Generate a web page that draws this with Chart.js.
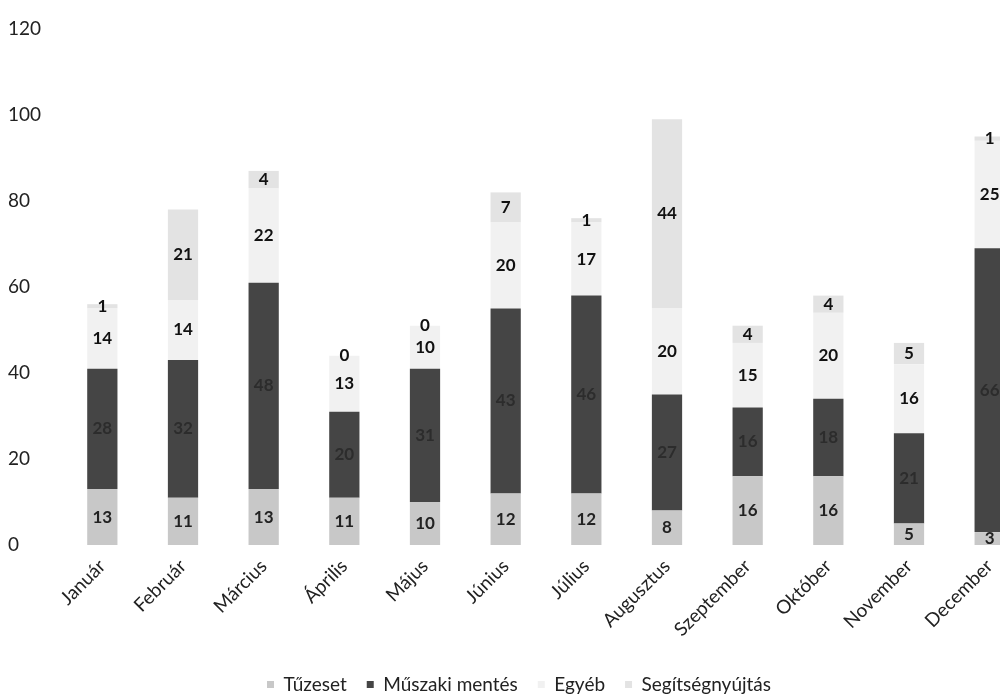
<!DOCTYPE html>
<html>
<head>
<meta charset="utf-8">
<script src="https://cdn.jsdelivr.net/npm/chart.js@4"></script>
<style>
  html, body { margin: 0; padding: 0; background: #fff; overflow: hidden; }
  #wrap { width: 1030px; height: 697px; }
</style>
</head>
<body>
<div id="wrap"><canvas id="chart" width="1030" height="697"></canvas></div>
<script>
const honapok = ['Január', 'Február', 'Március', 'Április', 'Május', 'Június',
  'Július', 'Augusztus', 'Szeptember', 'Október', 'November', 'December'];

const tuzeset = [13, 11, 13, 11, 10, 12, 12, 8, 16, 16, 5, 3];
const muszakiMentes = [28, 32, 48, 20, 31, 43, 46, 27, 16, 18, 21, 66];
const egyeb = [14, 14, 22, 13, 10, 20, 17, 20, 15, 20, 16, 25];
const segitsegnyujtas = [1, 21, 4, 0, 0, 7, 1, 44, 4, 4, 5, 1];

const yTicks = [0, 20, 40, 60, 80, 100, 120];

const betu = 'Lato, "Open Sans", sans-serif';

// ertekek kiirasa a szegmensek kozepere
const ertekCimkek = {
  id: 'ertekCimkek',
  afterDatasetsDraw(chart) {
    const ctx = chart.ctx;
    ctx.save();
    ctx.textAlign = 'center';
    ctx.textBaseline = 'middle';
    chart.data.datasets.forEach((ds, i) => {
      const meta = chart.getDatasetMeta(i);
      meta.data.forEach((bar, j) => {
        const v = ds.data[j];
        const y = (bar.y + bar.base) / 2;
        ctx.font = 'bold 17px ' + betu;
        ctx.fillStyle = ds.cimkeSzin;
        ctx.fillText(v, bar.x, y);
      });
    });
    ctx.restore();
  }
};

new Chart(document.getElementById('chart'), {
  type: 'bar',
  data: {
    labels: honapok,
    datasets: [
      { label: 'Tűzeset', data: tuzeset, backgroundColor: '#c8c8c8', cimkeSzin: '#222' },
      { label: 'Műszaki mentés', data: muszakiMentes, backgroundColor: '#454545', cimkeSzin: '#2c2c2c' },
      { label: 'Egyéb', data: egyeb, backgroundColor: '#f1f1f1', cimkeSzin: '#111' },
      { label: 'Segítségnyújtás', data: segitsegnyujtas, backgroundColor: '#e3e3e3', cimkeSzin: '#111' }
    ]
  },
  options: {
    responsive: false,
    animation: false,
    layout: { padding: { top: 29, left: 8, right: 0, bottom: -7 } },
    datasets: {
      bar: { categoryPercentage: 1, barPercentage: 0.375 }
    },
    plugins: {
      legend: {
        position: 'bottom',
        labels: {
          boxWidth: 7,
          boxHeight: 7,
          padding: 20,
          color: '#222',
          font: { family: betu, size: 19 }
        }
      },
      tooltip: { enabled: false }
    },
    scales: {
      x: {
        stacked: true,
        grid: { display: false, drawTicks: false },
        border: { display: false },
        ticks: {
          color: '#222',
          font: { family: betu, size: 19 },
          maxRotation: 45,
          minRotation: 45,
          padding: 10
        },
        afterFit(scale) { scale.height = 110; }
      },
      y: {
        stacked: true,
        min: 0,
        max: 120,
        grid: { display: false, drawTicks: false },
        border: { display: false },
        afterBuildTicks(scale) { scale.ticks = yTicks.map(v => ({ value: v })); },
        ticks: {
          color: '#222',
          font: { family: betu, size: 19 },
          crossAlign: 'far',
          padding: 4
        },
        afterFit(scale) { scale.width = 54; }
      }
    }
  },
  plugins: [ertekCimkek]
});
</script>
</body>
</html>
